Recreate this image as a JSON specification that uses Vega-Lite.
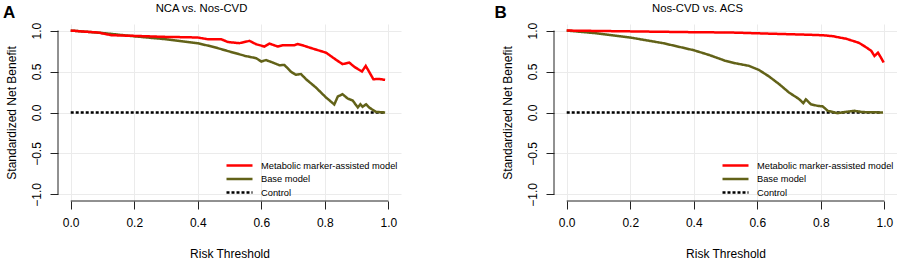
{
  "$schema": "https://vega.github.io/schema/vega-lite/v6.json",
  "padding": {"left": 3, "top": 2, "right": 0, "bottom": 0},
  "background": "white",
  "config": {
    "font": "Liberation Sans",
    "view": {"stroke": null},
    "axis": {
      "domain": false,
      "grid": true,
      "gridColor": "#ebebeb",
      "gridWidth": 1,
      "tickColor": "#222222",
      "tickSize": 8,
      "tickWidth": 1,
      "labelFont": "Liberation Sans",
      "labelFontSize": 12,
      "labelColor": "#000000",
      "labelFlush": false,
      "labelOverlap": false,
      "titleFont": "Liberation Sans",
      "titleFontSize": 12,
      "titleFontWeight": "normal",
      "titleColor": "#000000"
    },
    "legend": {
      "orient": "bottom-right",
      "offset": 3,
      "padding": 0,
      "labelFont": "Liberation Sans",
      "labelFontSize": 9.3,
      "labelColor": "#000000",
      "labelLimit": 400,
      "symbolType": "M-2.6,0H2.6",
      "symbolSize": 100,
      "symbolStrokeWidth": 2,
      "labelOffset": 15,
      "rowPadding": 1.5
    },
    "title": {
      "font": "Liberation Sans",
      "fontSize": 11.3,
      "fontWeight": "normal",
      "color": "#000000",
      "anchor": "middle",
      "baseline": "alphabetic",
      "offset": -10.2
    }
  },
  "datasets": {
    "panelA": [
      {"model": "Control", "x": 0.0, "y": 0.0},
      {"model": "Control", "x": 0.99, "y": 0.0},
      {"model": "Base model", "x": 0.0, "y": 1.0},
      {"model": "Base model", "x": 0.1, "y": 0.97},
      {"model": "Base model", "x": 0.2, "y": 0.93},
      {"model": "Base model", "x": 0.3, "y": 0.894},
      {"model": "Base model", "x": 0.4, "y": 0.845},
      {"model": "Base model", "x": 0.45, "y": 0.8},
      {"model": "Base model", "x": 0.5, "y": 0.744},
      {"model": "Base model", "x": 0.55, "y": 0.69},
      {"model": "Base model", "x": 0.584, "y": 0.663},
      {"model": "Base model", "x": 0.6, "y": 0.622},
      {"model": "Base model", "x": 0.615, "y": 0.64},
      {"model": "Base model", "x": 0.636, "y": 0.61},
      {"model": "Base model", "x": 0.657, "y": 0.577},
      {"model": "Base model", "x": 0.673, "y": 0.58},
      {"model": "Base model", "x": 0.694, "y": 0.496},
      {"model": "Base model", "x": 0.709, "y": 0.46},
      {"model": "Base model", "x": 0.725, "y": 0.47},
      {"model": "Base model", "x": 0.741, "y": 0.406},
      {"model": "Base model", "x": 0.772, "y": 0.305},
      {"model": "Base model", "x": 0.804, "y": 0.183},
      {"model": "Base model", "x": 0.83, "y": 0.098},
      {"model": "Base model", "x": 0.841, "y": 0.195},
      {"model": "Base model", "x": 0.856, "y": 0.223},
      {"model": "Base model", "x": 0.872, "y": 0.171},
      {"model": "Base model", "x": 0.888, "y": 0.146},
      {"model": "Base model", "x": 0.904, "y": 0.061},
      {"model": "Base model", "x": 0.912, "y": 0.1},
      {"model": "Base model", "x": 0.919, "y": 0.07},
      {"model": "Base model", "x": 0.93, "y": 0.1},
      {"model": "Base model", "x": 0.94, "y": 0.06},
      {"model": "Base model", "x": 0.961, "y": 0.008},
      {"model": "Base model", "x": 0.99, "y": 0.0},
      {"model": "Metabolic marker-assisted model", "x": 0.0, "y": 1.0},
      {"model": "Metabolic marker-assisted model", "x": 0.05, "y": 0.985},
      {"model": "Metabolic marker-assisted model", "x": 0.086, "y": 0.976},
      {"model": "Metabolic marker-assisted model", "x": 0.128, "y": 0.943},
      {"model": "Metabolic marker-assisted model", "x": 0.2, "y": 0.935},
      {"model": "Metabolic marker-assisted model", "x": 0.296, "y": 0.923},
      {"model": "Metabolic marker-assisted model", "x": 0.358, "y": 0.919},
      {"model": "Metabolic marker-assisted model", "x": 0.4, "y": 0.915},
      {"model": "Metabolic marker-assisted model", "x": 0.432, "y": 0.894},
      {"model": "Metabolic marker-assisted model", "x": 0.474, "y": 0.894},
      {"model": "Metabolic marker-assisted model", "x": 0.495, "y": 0.86},
      {"model": "Metabolic marker-assisted model", "x": 0.531, "y": 0.846},
      {"model": "Metabolic marker-assisted model", "x": 0.563, "y": 0.874},
      {"model": "Metabolic marker-assisted model", "x": 0.584, "y": 0.833},
      {"model": "Metabolic marker-assisted model", "x": 0.61, "y": 0.805},
      {"model": "Metabolic marker-assisted model", "x": 0.626, "y": 0.841},
      {"model": "Metabolic marker-assisted model", "x": 0.652, "y": 0.805},
      {"model": "Metabolic marker-assisted model", "x": 0.667, "y": 0.821},
      {"model": "Metabolic marker-assisted model", "x": 0.704, "y": 0.82},
      {"model": "Metabolic marker-assisted model", "x": 0.714, "y": 0.835},
      {"model": "Metabolic marker-assisted model", "x": 0.73, "y": 0.82},
      {"model": "Metabolic marker-assisted model", "x": 0.762, "y": 0.78},
      {"model": "Metabolic marker-assisted model", "x": 0.804, "y": 0.73},
      {"model": "Metabolic marker-assisted model", "x": 0.836, "y": 0.642},
      {"model": "Metabolic marker-assisted model", "x": 0.856, "y": 0.59},
      {"model": "Metabolic marker-assisted model", "x": 0.877, "y": 0.61},
      {"model": "Metabolic marker-assisted model", "x": 0.893, "y": 0.557},
      {"model": "Metabolic marker-assisted model", "x": 0.917, "y": 0.5},
      {"model": "Metabolic marker-assisted model", "x": 0.929, "y": 0.569},
      {"model": "Metabolic marker-assisted model", "x": 0.953, "y": 0.406},
      {"model": "Metabolic marker-assisted model", "x": 0.97, "y": 0.41},
      {"model": "Metabolic marker-assisted model", "x": 0.99, "y": 0.398}
    ],
    "panelB": [
      {"model": "Control", "x": 0.0, "y": 0.0},
      {"model": "Control", "x": 0.99, "y": 0.0},
      {"model": "Base model", "x": 0.0, "y": 1.0},
      {"model": "Base model", "x": 0.094, "y": 0.967},
      {"model": "Base model", "x": 0.2, "y": 0.915},
      {"model": "Base model", "x": 0.305, "y": 0.845},
      {"model": "Base model", "x": 0.4, "y": 0.76},
      {"model": "Base model", "x": 0.45, "y": 0.7},
      {"model": "Base model", "x": 0.5, "y": 0.63},
      {"model": "Base model", "x": 0.532, "y": 0.6},
      {"model": "Base model", "x": 0.574, "y": 0.569},
      {"model": "Base model", "x": 0.605, "y": 0.52},
      {"model": "Base model", "x": 0.637, "y": 0.44},
      {"model": "Base model", "x": 0.669, "y": 0.346},
      {"model": "Base model", "x": 0.7, "y": 0.244},
      {"model": "Base model", "x": 0.732, "y": 0.163},
      {"model": "Base model", "x": 0.745, "y": 0.114},
      {"model": "Base model", "x": 0.753, "y": 0.16},
      {"model": "Base model", "x": 0.769, "y": 0.1},
      {"model": "Base model", "x": 0.79, "y": 0.081},
      {"model": "Base model", "x": 0.806, "y": 0.075},
      {"model": "Base model", "x": 0.822, "y": 0.02},
      {"model": "Base model", "x": 0.853, "y": -0.008},
      {"model": "Base model", "x": 0.88, "y": 0.008},
      {"model": "Base model", "x": 0.906, "y": 0.02},
      {"model": "Base model", "x": 0.932, "y": 0.005},
      {"model": "Base model", "x": 0.996, "y": 0.0},
      {"model": "Metabolic marker-assisted model", "x": 0.0, "y": 1.0},
      {"model": "Metabolic marker-assisted model", "x": 0.1, "y": 0.995},
      {"model": "Metabolic marker-assisted model", "x": 0.2, "y": 0.99},
      {"model": "Metabolic marker-assisted model", "x": 0.3, "y": 0.985},
      {"model": "Metabolic marker-assisted model", "x": 0.4, "y": 0.98},
      {"model": "Metabolic marker-assisted model", "x": 0.516, "y": 0.976},
      {"model": "Metabolic marker-assisted model", "x": 0.658, "y": 0.96},
      {"model": "Metabolic marker-assisted model", "x": 0.75, "y": 0.95},
      {"model": "Metabolic marker-assisted model", "x": 0.806, "y": 0.943},
      {"model": "Metabolic marker-assisted model", "x": 0.84, "y": 0.93},
      {"model": "Metabolic marker-assisted model", "x": 0.859, "y": 0.915},
      {"model": "Metabolic marker-assisted model", "x": 0.88, "y": 0.9},
      {"model": "Metabolic marker-assisted model", "x": 0.901, "y": 0.874},
      {"model": "Metabolic marker-assisted model", "x": 0.92, "y": 0.85},
      {"model": "Metabolic marker-assisted model", "x": 0.933, "y": 0.82},
      {"model": "Metabolic marker-assisted model", "x": 0.945, "y": 0.79},
      {"model": "Metabolic marker-assisted model", "x": 0.959, "y": 0.752},
      {"model": "Metabolic marker-assisted model", "x": 0.969, "y": 0.69},
      {"model": "Metabolic marker-assisted model", "x": 0.98, "y": 0.73},
      {"model": "Metabolic marker-assisted model", "x": 0.988, "y": 0.68},
      {"model": "Metabolic marker-assisted model", "x": 0.998, "y": 0.61}
    ]
  },
  "spacing": 93,
  "resolve": {
    "scale": {"color": "independent", "strokeDash": "independent", "strokeWidth": "independent"},
    "legend": {"color": "independent", "strokeDash": "independent"}
  },
  "hconcat": [
    {
      "width": 343,
      "height": 177,
      "title": {"text": "NCA vs. Nos-CVD", "dx": -28},
      "layer": [
        {
          "data": {"name": "panelA"},
          "mark": {"type": "line", "clip": false},
          "encoding": {
            "x": {"field": "x", "type": "quantitative", "scale": {"domain": [-0.04, 1.04], "nice": false, "zero": false},
                  "axis": {"values": [0, 0.2, 0.4, 0.6, 0.8, 1.0], "format": ".1f", "title": "Risk Threshold", "labelPadding": 8, "titlePadding": 20}},
            "y": {"field": "y", "type": "quantitative", "scale": {"domain": [-1.08, 1.08], "nice": false, "zero": false},
                  "axis": {"values": [-1, -0.5, 0, 0.5, 1], "format": ".1f", "title": "Standardized Net Benefit", "labelAngle": 270, "labelPadding": 7, "titlePadding": 12}},
            "color": {"field": "model", "type": "nominal",
                      "scale": {"domain": ["Metabolic marker-assisted model", "Base model", "Control"], "range": ["#ff0000", "#626218", "#000000"]},
                      "legend": {"title": null}},
            "strokeDash": {"field": "model", "type": "nominal",
                      "scale": {"domain": ["Metabolic marker-assisted model", "Base model", "Control"], "range": [[1, 0], [1, 0], [3, 2]]},
                      "legend": {"title": null}},
            "strokeWidth": {"field": "model", "type": "nominal",
                      "scale": {"domain": ["Metabolic marker-assisted model", "Base model", "Control"], "range": [2.5, 2.5, 1.3]},
                      "legend": null}
          }
        },
        {
          "data": {"values": [{}]},
          "mark": {"type": "rule", "color": "#222222", "strokeWidth": 1},
          "encoding": {"x": {"datum": 0}, "x2": {"datum": 1}, "y": {"datum": -1.08}}
        },
        {
          "data": {"values": [{}]},
          "mark": {"type": "rule", "color": "#222222", "strokeWidth": 1},
          "encoding": {"x": {"datum": -0.04}, "y": {"datum": -1}, "y2": {"datum": 1}}
        },
        {
          "data": {"values": [{"label": "A"}]},
          "mark": {"type": "text", "align": "left", "baseline": "alphabetic", "fontSize": 17, "fontWeight": "bold", "font": "Liberation Sans", "color": "#000000"},
          "encoding": {"x": {"datum": -0.213}, "y": {"datum": 1.153}, "text": {"field": "label"}}
        }
      ]
    },
    {
      "width": 343,
      "height": 177,
      "title": {"text": "Nos-CVD vs. ACS", "dx": -28},
      "layer": [
        {
          "data": {"name": "panelB"},
          "mark": {"type": "line", "clip": false},
          "encoding": {
            "x": {"field": "x", "type": "quantitative", "scale": {"domain": [-0.04, 1.04], "nice": false, "zero": false},
                  "axis": {"values": [0, 0.2, 0.4, 0.6, 0.8, 1.0], "format": ".1f", "title": "Risk Threshold", "labelPadding": 8, "titlePadding": 20}},
            "y": {"field": "y", "type": "quantitative", "scale": {"domain": [-1.08, 1.08], "nice": false, "zero": false},
                  "axis": {"values": [-1, -0.5, 0, 0.5, 1], "format": ".1f", "title": "Standardized Net Benefit", "labelAngle": 270, "labelPadding": 7, "titlePadding": 12}},
            "color": {"field": "model", "type": "nominal",
                      "scale": {"domain": ["Metabolic marker-assisted model", "Base model", "Control"], "range": ["#ff0000", "#626218", "#000000"]},
                      "legend": {"title": null}},
            "strokeDash": {"field": "model", "type": "nominal",
                      "scale": {"domain": ["Metabolic marker-assisted model", "Base model", "Control"], "range": [[1, 0], [1, 0], [3, 2]]},
                      "legend": {"title": null}},
            "strokeWidth": {"field": "model", "type": "nominal",
                      "scale": {"domain": ["Metabolic marker-assisted model", "Base model", "Control"], "range": [2.5, 2.5, 1.3]},
                      "legend": null}
          }
        },
        {
          "data": {"values": [{}]},
          "mark": {"type": "rule", "color": "#222222", "strokeWidth": 1},
          "encoding": {"x": {"datum": 0}, "x2": {"datum": 1}, "y": {"datum": -1.08}}
        },
        {
          "data": {"values": [{}]},
          "mark": {"type": "rule", "color": "#222222", "strokeWidth": 1},
          "encoding": {"x": {"datum": -0.04}, "y": {"datum": -1}, "y2": {"datum": 1}}
        },
        {
          "data": {"values": [{"label": "B"}]},
          "mark": {"type": "text", "align": "left", "baseline": "alphabetic", "fontSize": 17, "fontWeight": "bold", "font": "Liberation Sans", "color": "#000000"},
          "encoding": {"x": {"datum": -0.227}, "y": {"datum": 1.153}, "text": {"field": "label"}}
        }
      ]
    }
  ]
}
